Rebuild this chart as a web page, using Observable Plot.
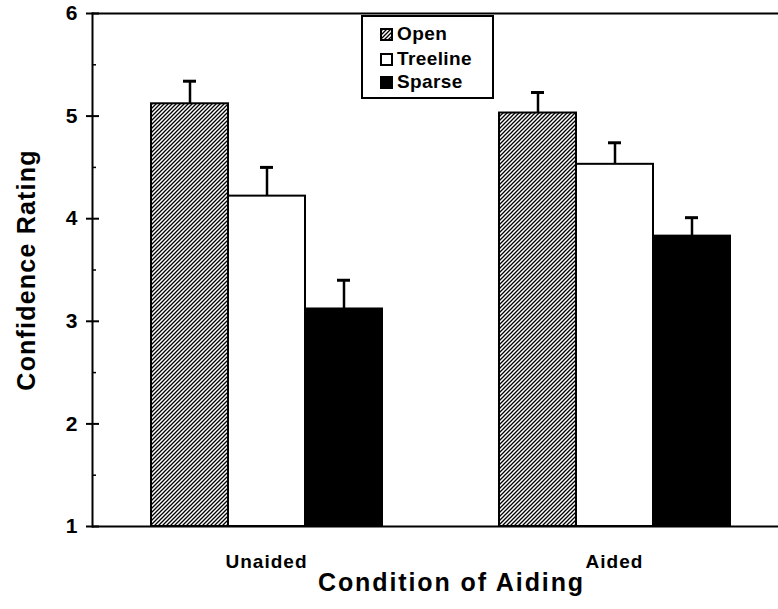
<!DOCTYPE html>
<html>
<head>
<meta charset="utf-8">
<script src="https://cdn.jsdelivr.net/npm/d3@7"></script>
<script src="https://cdn.jsdelivr.net/npm/@observablehq/plot@0.6"></script>
<style>
  body { margin: 0; background: #fff; }
  #wrap { position: relative; width: 778px; height: 609px; overflow: hidden; }
  #wrap svg text { font-family: "Liberation Sans", Arial, sans-serif; font-weight: bold; fill: #000; }
  g[aria-label="y-axis label"] { font-size: 25px; letter-spacing: 1.2px; }
  g[aria-label="fx-axis label"] { font-size: 25px; letter-spacing: 1.9px; translate: 11px 4px; }
  g[aria-label="fx-axis tick label"] { letter-spacing: 1px; }
  #legend { position: absolute; left: 361px; top: 15px; width: 129px; height: 80px;
            border: 2px solid #000; background: #fff;
            font: bold 19px "Liberation Sans", Arial, sans-serif; letter-spacing: 0.4px; }
  .row { position: absolute; left: 17px; height: 20px; display: flex; align-items: center; }
  .row svg { margin-right: 4px; }
</style>
</head>
<body>
<svg width="0" height="0" style="position:absolute">
  <defs>
    <pattern id="hatch" patternUnits="userSpaceOnUse" width="4" height="4">
      <rect width="4" height="4" fill="#fff"/>
      <path d="M-1,1 l2,-2 M0,4 l4,-4 M3,5 l2,-2" stroke="#000" stroke-width="1.3"/>
    </pattern>
  </defs>
</svg>
<div id="wrap"></div>
<script>
// ---- data ----
const conditions = ["Unaided", "Aided"];
const series = ["Open", "Treeline", "Sparse"];
const unaidedMeans = [5.12, 4.22, 3.12];
const aidedMeans = [5.03, 4.53, 3.83];
const unaidedErr = [0.22, 0.28, 0.28];
const aidedErr = [0.20, 0.21, 0.18];
const yTicks = [1, 2, 3, 4, 5, 6];
const yMinorTicks = [1.5, 2.5, 3.5, 4.5, 5.5];

// ---- styles ----
const seriesFill = ["url(#hatch)", "#fff", "#000"];

const rows = [];
conditions.forEach((c, ci) => {
  const means = ci === 0 ? unaidedMeans : aidedMeans;
  const errs = ci === 0 ? unaidedErr : aidedErr;
  series.forEach((s, si) => rows.push({condition: c, series: s, mean: means[si], top: means[si] + errs[si]}));
});

const chart = Plot.plot({
  width: 778,
  height: 609,
  marginLeft: 92,
  marginRight: -10,
  marginTop: 13,
  marginBottom: 83,
  style: {fontFamily: "Liberation Sans, Arial, sans-serif", fontWeight: "bold", color: "#000", background: "transparent"},
  fx: {domain: conditions, padding: 0},
  x: {domain: series, paddingInner: 0, paddingOuter: 0.74, axis: null},
  y: {domain: [1, 6]},
  color: {domain: series, range: seriesFill},
  marks: [
    Plot.barY(rows, {fx: "condition", x: "series", y1: 1, y2: "mean", fill: "series", stroke: "#000", strokeWidth: 2}),
    Plot.ruleX(rows, {fx: "condition", x: "series", y1: "mean", y2: "top", stroke: "#000", strokeWidth: 2.5}),
    Plot.tickY(rows, {fx: "condition", x: "series", y: "top", insetLeft: 32, insetRight: 32, stroke: "#000", strokeWidth: 3}),
    Plot.ruleY([1, 6], {stroke: "#000", strokeWidth: 2}),
    Plot.frame({anchor: "left", facetAnchor: "left", stroke: "#000", strokeWidth: 2}),
    Plot.axisY({ticks: yTicks, tickFormat: d => String(d), tickSize: 6, tickPadding: 9, fontSize: 21, strokeWidth: 2,
                label: "Confidence Rating", labelArrow: "none", labelAnchor: "center", labelOffset: 75}),
    Plot.axisY({ticks: yTicks, tickSize: -7, text: null, label: null, strokeWidth: 2}),
    Plot.axisY({ticks: yMinorTicks, tickSize: -4, text: null, label: null, strokeWidth: 1.5}),
    Plot.axisFx({anchor: "bottom", tickSize: 0, tickPadding: 28, fontSize: 19,
                 label: "Condition of Aiding", labelArrow: "none", labelAnchor: "center", labelOffset: 60})
  ]
});
document.getElementById("wrap").appendChild(chart);

// legend
const legend = document.createElement("div");
legend.id = "legend";
const rowTops = [7, 32, 55];
series.forEach((s, i) => {
  const r = document.createElement("div");
  r.className = "row";
  r.style.top = rowTops[i] + "px";
  r.innerHTML = `<svg width="13" height="13"><rect x="1" y="1" width="11" height="11" fill="${seriesFill[i]}" stroke="#000" stroke-width="2"/></svg><span>${s}</span>`;
  legend.appendChild(r);
});
document.getElementById("wrap").appendChild(legend);
</script>
</body>
</html>
